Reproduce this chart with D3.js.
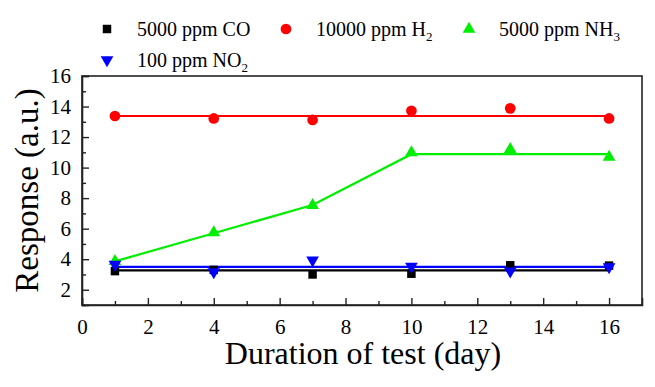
<!DOCTYPE html>
<html>
<head>
<meta charset="utf-8">
<script src="https://cdn.jsdelivr.net/npm/d3@7"></script>
<style>
  body { margin: 0; background: #fff; }
  svg text { font-family: "Liberation Serif", "Times New Roman", Times, serif; }
</style>
</head>
<body>
<div id="chart"></div>
<script>
// data
var days = [1, 4, 7, 10, 13, 16];
var coValues  = [3.22, 3.3, 3.0, 3.05, 3.6, 3.58];
var h2Values  = [13.38, 13.22, 13.12, 13.72, 13.88, 13.22];
var nh3Values = [3.86, 5.74, 7.53, 10.99, 11.19, 10.69];
var no2Values = [3.66, 3.16, 3.93, 3.53, 3.22, 3.5];
// fitted lines
var coFit  = [3.27, 3.27, 3.27, 3.27, 3.27, 3.27];
var h2Fit  = [13.38, 13.38, 13.38, 13.38, 13.38, 13.38];
var nh3Fit = [3.86, 5.7, 7.55, 10.88, 10.88, 10.88];
var no2Fit = [3.5, 3.5, 3.5, 3.5, 3.5, 3.5];
var xTicks = [0, 2, 4, 6, 8, 10, 12, 14, 16];
var yTicks = [2, 4, 6, 8, 10, 12, 14, 16];

var series = [
  {name: ['5000 ppm CO', ''], pts: coValues, fit: coFit, color: '#000000', sym: 'square'},
  {name: ['10000 ppm H', '2'], pts: h2Values, fit: h2Fit, color: '#ff0000', sym: 'circle'},
  {name: ['5000 ppm NH', '3'], pts: nh3Values, fit: nh3Fit, color: '#00ee00', sym: 'up'},
  {name: ['100 ppm NO', '2'], pts: no2Values, fit: no2Fit, color: '#0000ff', sym: 'down'}
];

var width = 655, height = 387;
var m = {left: 82, right: 13, top: 76, bottom: 82};

var svg = d3.select('#chart').append('svg')
  .attr('width', width).attr('height', height);

var x = d3.scaleLinear().domain([0, 17]).range([m.left, width - m.right]);
var y = d3.scaleLinear().domain([1, 16]).range([height - m.bottom, m.top]);

function symbolPath(sym){
  var t = {square: d3.symbolSquare, circle: d3.symbolCircle,
           up: d3.symbolTriangle, down: d3.symbolTriangle}[sym];
  var s = {square: 72, circle: 90, up: 70, down: 70}[sym];
  return d3.symbol().type(t).size(s)();
}
function symbolTransform(sym, px, py){
  return 'translate(' + px + ',' + py + ')' + (sym === 'down' ? 'rotate(180)' : '');
}

// frame
svg.append('rect')
  .attr('x', m.left).attr('y', m.top)
  .attr('width', width - m.left - m.right)
  .attr('height', height - m.top - m.bottom)
  .attr('fill', 'none').attr('stroke', '#222').attr('stroke-width', 1.6);

// x axis
var xAxis = svg.append('g').attr('transform', 'translate(0,' + (height - m.bottom) + ')')
  .call(d3.axisBottom(x).tickValues(xTicks).tickSize(-7).tickPadding(14).tickFormat(d3.format('d')));
svg.append('g').attr('transform', 'translate(0,' + (height - m.bottom) + ')')
  .call(d3.axisBottom(x).tickValues(d3.range(1, 17, 2)).tickSize(-4).tickFormat(''))
  .call(function(g){ g.select('.domain').remove(); });

// y axis
var yAxis = svg.append('g').attr('transform', 'translate(' + m.left + ',0)')
  .call(d3.axisLeft(y).tickValues(yTicks).tickSize(-7).tickPadding(17).tickFormat(d3.format('d')));
svg.append('g').attr('transform', 'translate(' + m.left + ',0)')
  .call(d3.axisLeft(y).tickValues(d3.range(1, 16, 2)).tickSize(-4).tickFormat(''))
  .call(function(g){ g.select('.domain').remove(); });

svg.selectAll('.tick line').attr('stroke', '#222').attr('stroke-width', 1.4);
svg.selectAll('.domain').attr('stroke', '#222').attr('stroke-width', 1.6);
svg.selectAll('.tick text').attr('font-size', 21).attr('fill', '#000');
yAxis.selectAll('.tick text').attr('dx', '6');

// titles
svg.append('text')
  .attr('x', (m.left + width - m.right) / 2 + 1).attr('y', 364)
  .attr('text-anchor', 'middle').attr('font-size', 32)
  .text('Duration of test (day)');
svg.append('text')
  .attr('transform', 'translate(38,' + (m.top + (height - m.top - m.bottom) / 2) + ')rotate(-90)')
  .attr('text-anchor', 'middle').attr('font-size', 33)
  .text('Response (a.u.)');

// lines and markers
var line = d3.line().x(function(d){ return x(d[0]); }).y(function(d){ return y(d[1]); });
var plot = svg.append('g');
series.forEach(function(s){
  plot.append('path')
    .datum(d3.zip(days, s.fit))
    .attr('d', line).attr('fill', 'none')
    .attr('stroke', s.color).attr('stroke-width', 2.2);
});
series.forEach(function(s){
  plot.selectAll(null).data(d3.zip(days, s.pts)).enter().append('path')
    .attr('d', symbolPath(s.sym))
    .attr('transform', function(d){ return symbolTransform(s.sym, x(d[0]), y(d[1])); })
    .attr('fill', s.color);
});

// legend
var legendPos = [[107, 29], [286, 29], [469, 29], [107, 60]];
series.forEach(function(s, i){
  var g = svg.append('g').attr('transform', 'translate(' + legendPos[i][0] + ',' + legendPos[i][1] + ')');
  g.append('path').attr('d', symbolPath(s.sym))
    .attr('transform', symbolTransform(s.sym, 0, 0)).attr('fill', s.color);
  var t = g.append('text').attr('x', 30).attr('y', 7).attr('font-size', 20);
  t.append('tspan').text(s.name[0]);
  if(s.name[1]) t.append('tspan').attr('font-size', 13).attr('dy', 5).text(s.name[1]);
});
</script>
</body>
</html>
